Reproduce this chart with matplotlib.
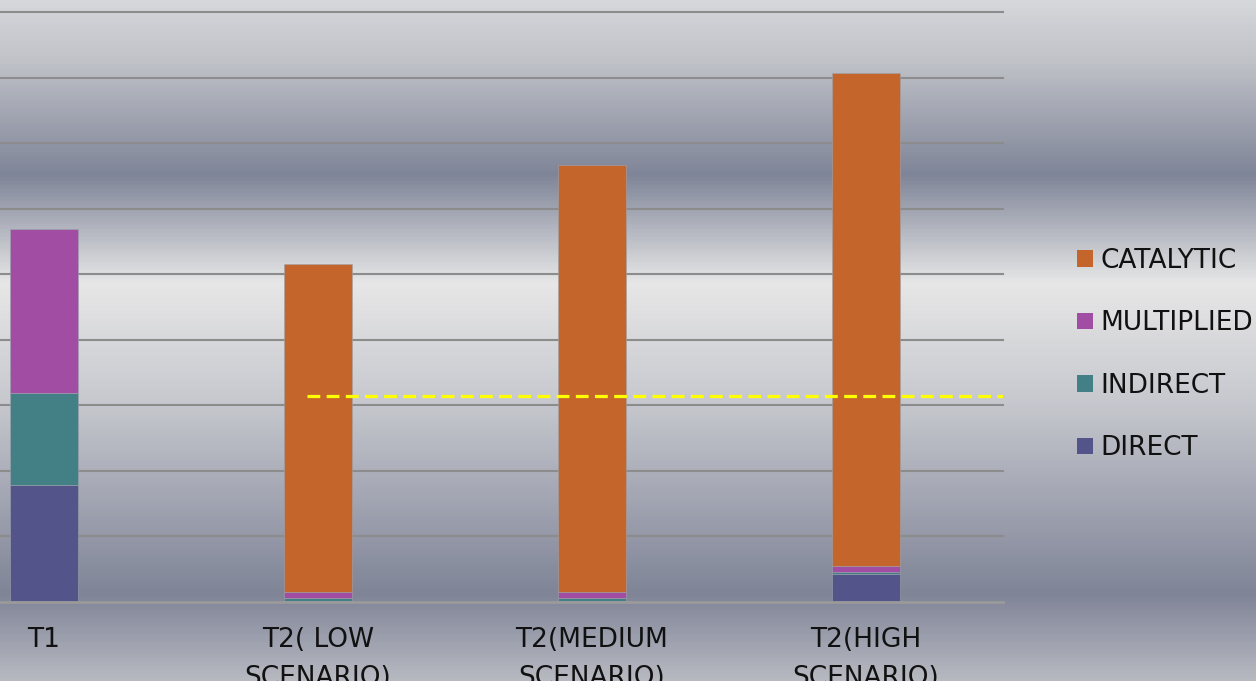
import numpy as np
import matplotlib
matplotlib.use("Agg")
import matplotlib.pyplot as plt
from matplotlib.colors import LinearSegmentedColormap
from matplotlib.patches import Patch

plt.rcParams['font.family'] = ['DejaVu Sans']

categories = ["T1", "T2( LOW\nSCENARIO)", "T2(MEDIUM\nSCENARIO)", "T2(HIGH\nSCENARIO)"]
direct = [1.79, 0.02, 0.02, 0.43]
indirect = [1.40, 0.04, 0.04, 0.03]
multiplied = [2.51, 0.09, 0.09, 0.09]
catalytic = [0.00, 5.01, 6.52, 7.52]
reference_level = 3.15
reference_start = 0.96

series = [
    ("DIRECT", direct, "#53548a"),
    ("INDIRECT", indirect, "#438086"),
    ("MULTIPLIED", multiplied, "#a04da3"),
    ("CATALYTIC", catalytic, "#c4652c"),
]

W, H = 1256, 681
fig = plt.figure(figsize=(W / 100, H / 100), dpi=100)

# banded grey backdrop
bg = fig.add_axes([0, 0, 1, 1], zorder=-10)
stops = [(0, "#d6d7db"), (60, "#c0c2c8"), (174, "#7f8598"), (283, "#e7e7e7"),
         (400, "#c8c9cf"), (595, "#7f8497"), (681, "#b7b9c1")]
cmap = LinearSegmentedColormap.from_list("band", [(p / H, c) for p, c in stops])
grad = np.linspace(0, 1, H).reshape(-1, 1)
bg.imshow(grad, cmap=cmap, aspect="auto", extent=[0, 1, 1, 0], vmin=0, vmax=1)
bg.set_axis_off()

ax_left = -93 / W
ax_right = 1003 / W
ax_bottom = 1 - 602 / H
ax_top = 1 - 12.3 / H
ax = fig.add_axes([ax_left, ax_bottom, ax_right - ax_left, ax_top - ax_bottom])
ax.set_facecolor("none")

x = np.arange(len(categories))
bottom = np.zeros(len(categories))
handles = []
for name, vals, color in series:
    v = np.array(vals)
    ax.bar(x, v, width=0.248, bottom=bottom, color=color, zorder=3,
           edgecolor="#9ea3ad", linewidth=0.4)
    bottom += v
    handles.append(Patch(facecolor=color, label=name))

ax.plot([reference_start, len(categories) - 0.5], [reference_level, reference_level],
        color="#ffff00", linestyle=(0, (4, 2)), linewidth=2.3, zorder=4)

ax.set_xlim(-0.5, len(categories) - 0.5)
ax.set_ylim(0, 9)
ax.set_yticks(np.arange(1, 10))
ax.yaxis.grid(True, color="#8c8c8c", linewidth=1.5, zorder=0)
for gl in ax.get_ygridlines():
    gl.set_clip_on(False)
ax.set_axisbelow(True)
ax.tick_params(axis="y", length=0, labelleft=False)
ax.set_xticks(x)
ax.set_xticklabels(categories, fontsize=19, color="#111111", linespacing=1.62)
ax.tick_params(axis="x", length=0, pad=18)
for s in ["top", "right", "left"]:
    ax.spines[s].set_visible(False)
ax.spines["bottom"].set_color("#9a9a9a")
ax.spines["bottom"].set_linewidth(2)
ax.spines["bottom"].set_zorder(5)

leg = fig.legend(handles=handles[::-1], loc="upper left",
                 bbox_to_anchor=(1077 / W, 1 - 248 / H), frameon=False,
                 fontsize=19, handlelength=0.6, handleheight=0.6,
                 handletextpad=0.3, labelspacing=1.38, borderaxespad=0, borderpad=0)
for t in leg.get_texts():
    t.set_color("#111111")

fig.savefig("out.png", dpi=100)
